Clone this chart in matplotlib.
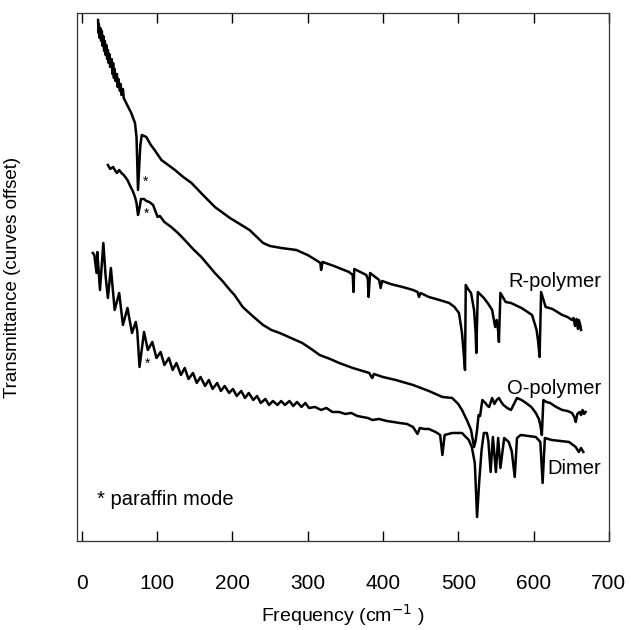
import matplotlib
matplotlib.use('Agg')
import matplotlib.pyplot as plt

plt.rcParams['font.family'] = ['Liberation Sans', 'DejaVu Sans']

# spectra (frequency in cm^-1, transmittance offset, arb.)
r_freq = [22, 22.5, 23, 24, 25, 26, 27, 28, 29, 30, 31, 32, 33, 34, 35, 36, 37, 38, 40, 41,
          42, 43, 44, 45, 47, 48, 49, 51, 52, 53, 55, 56, 58, 62, 66, 71, 73, 75, 78, 80,
          86, 92, 97, 106, 115, 124, 135, 146, 160, 177, 197, 210, 223, 241, 250, 265, 285, 300, 311, 317,
          318, 320, 335, 355, 360, 361, 362, 370, 378, 380, 381, 383, 395, 397, 399, 410, 426, 440, 446, 448,
          450, 461, 475, 488, 495, 501, 505, 507, 509, 510, 513, 517, 521, 523, 524, 526, 534, 540, 545, 549,
          551, 553, 554, 556, 563, 570, 584, 598, 604, 606, 608, 610, 616, 625, 638, 645, 651, 653, 655, 657,
          659, 660, 662, 663]
r_val = [521, 508, 517, 503, 513, 500, 510, 495, 505, 490, 500, 486, 496, 482, 491, 478, 487, 474, 482, 467,
         478, 463, 472, 460, 467, 454, 462, 450, 457, 446, 452, 443, 440, 434, 428, 418, 404, 351, 395, 406,
         404, 396, 391, 381, 376, 371, 364, 358, 347, 334, 323, 317, 311, 298, 295, 293, 291, 286, 281, 278,
         271, 279, 275, 269, 266, 249, 272, 269, 266, 262, 244, 268, 261, 253, 260, 257, 254, 251, 249, 244,
         248, 244, 241, 238, 234, 228, 208, 190, 171, 256, 252, 248, 231, 210, 188, 249, 243, 237, 231, 214,
         221, 210, 199, 248, 239, 238, 233, 226, 211, 200, 184, 249, 234, 232, 226, 224, 221, 223, 215, 222,
         212, 221, 216, 211]

o_freq = [35, 38, 42, 45, 47, 50, 53, 56, 58, 61, 64, 68, 71, 73, 75, 77, 79, 83, 86, 90,
          95, 98, 101, 104, 110, 119, 128, 137, 148, 159, 168, 177, 187, 197, 203, 214, 227, 241, 252, 263,
          278, 293, 305, 316, 330, 342, 360, 382, 384, 386, 388, 400, 417, 440, 461, 479, 492, 500, 505, 512,
          517, 521, 523, 525, 527, 529, 532, 536, 539, 541, 545, 548, 551, 554, 557, 560, 565, 570, 574, 578,
          584, 590, 597, 603, 607, 609, 611, 613, 617, 622, 630, 638, 645, 651, 654, 656, 658, 661, 663, 665,
          667, 669]
o_val = [376, 372, 374, 370, 368, 371, 368, 366, 364, 361, 356, 350, 344, 338, 326, 333, 342, 342, 340, 339,
         336, 330, 324, 325, 319, 314, 308, 301, 292, 284, 276, 268, 260, 251, 246, 234, 225, 216, 211, 208,
         203, 198, 192, 186, 182, 178, 173, 168, 165, 163, 167, 164, 161, 156, 150, 144, 143, 137, 131, 120,
         111, 94, 100, 111, 126, 125, 141, 138, 135, 134, 143, 137, 141, 143, 139, 136, 133, 131, 137, 143,
         141, 138, 134, 128, 122, 116, 106, 141, 139, 138, 134, 131, 130, 128, 124, 119, 127, 129, 126, 131,
         127, 129]

d_freq = [15, 17, 20, 21, 24.5, 29, 32, 35, 39, 44, 50, 55, 61, 67, 72, 74, 77, 83, 88, 94,
          99.5, 105, 110, 116, 121, 126, 132, 137, 142, 148, 153, 158, 164, 169, 174, 180, 185, 190, 196, 201,
          206, 212, 217, 222, 228, 233, 238, 244, 249, 254, 260, 265, 270, 276, 281, 286, 292, 297, 302, 310,
          318, 325, 333, 342, 350, 358, 366, 373, 380, 386, 395, 405, 414, 422, 432, 440, 446, 449, 455, 461,
          470, 476, 479, 482, 492, 505, 514, 518, 522, 525, 528, 531, 534, 538, 540, 543, 546, 550, 553, 556,
          561, 567, 571, 575, 578, 583, 603, 609, 612, 615, 624, 647, 656, 660, 663, 666]
d_val = [288, 286, 268, 289, 251, 298, 265, 243, 273, 231, 248, 216, 233, 208, 219, 210, 174, 209, 191, 199,
         183, 189, 176, 183, 171, 178, 166, 173, 162, 168, 158, 164, 155, 161, 152, 158, 150, 155, 148, 152,
         145, 150, 143, 148, 141, 145, 138, 142, 136, 140, 136, 140, 136, 140, 135, 139, 134, 138, 133, 134,
         131, 133, 129, 129, 127, 128, 125, 124, 123, 121, 122, 120, 119, 118, 117, 114, 107, 113, 112, 112,
         109, 106, 86, 106, 108, 108, 101, 94, 78, 24, 61, 91, 108, 108, 100, 69, 104, 69, 103, 73,
         103, 99, 90, 64, 103, 106, 104, 99, 58, 103, 101, 99, 94, 89, 93, 89]

labels = ['R-polymer', 'O-polymer', 'Dimer']
label_y = [259, 152, 72]
star_pos = [(85.5, 359), (86, 327), (87.6, 177)]

fig = plt.figure(figsize=(6.31, 6.30), dpi=100)
ax = fig.add_axes([0.122, 0.1413, 0.843, 0.8381])

for f, v in [(r_freq, r_val), (o_freq, o_val), (d_freq, d_val)]:
    ax.plot(f, v, color='black', lw=1.8)

for lab, yy in zip(labels, label_y):
    ax.text(690, yy, lab, ha='right', va='center', fontsize=14.5)
for sx, sy in star_pos:
    ax.text(sx, sy, '*', ha='center', va='center', fontsize=10)
ax.text(20.5, 41.5, '* paraffin mode', ha='left', va='center', fontsize=14.5)

ax.set_xlim(-6, 700)
ax.set_ylim(0, 528)
ax.set_xticks(range(0, 701, 100))
ax.set_yticks([])
ax.tick_params(axis='x', direction='in', top=True, length=7, width=1, pad=24, labelsize=15)
for s in ax.spines.values():
    s.set_linewidth(0.9)
    s.set_color('#333333')

ax.set_xlabel('Frequency (cm$^{-1}$ )', fontsize=14, labelpad=6)
ax.set_ylabel('Transmittance (curves offset)', fontsize=13.5, labelpad=40)

fig.savefig('out.png', dpi=100)
